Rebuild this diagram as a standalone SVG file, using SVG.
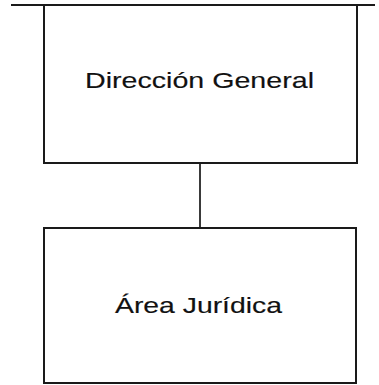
<svg xmlns="http://www.w3.org/2000/svg" width="379" height="385" viewBox="0 0 379 385">
<style>
.box{fill:#fff;stroke:#1a1a1a;stroke-width:2}
.lbl{font-family:"Liberation Sans",Arial,sans-serif;font-size:22.5px;fill:#111;stroke:#111;stroke-width:0.15}
.conn{stroke:#1a1a1a;stroke-width:2;fill:none}
</style>
<rect width="379" height="385" fill="#fff"/>
<g id="direccion-general">
<rect class="box" x="44" y="5" width="313" height="158"/>
<text class="lbl" x="85" y="88" textLength="229" lengthAdjust="spacingAndGlyphs">Dirección General</text>
</g>
<g id="area-juridica">
<rect class="box" x="44" y="228" width="312" height="155"/>
<text class="lbl" x="115" y="313" textLength="167" lengthAdjust="spacingAndGlyphs">Área Jurídica</text>
</g>
<g id="connectors">
<line class="conn" x1="11" y1="5" x2="375" y2="5"/>
<line class="conn" x1="200" y1="164" x2="200" y2="227" stroke="#3a3a3a" style="stroke:#3a3a3a"/>
</g>
</svg>
